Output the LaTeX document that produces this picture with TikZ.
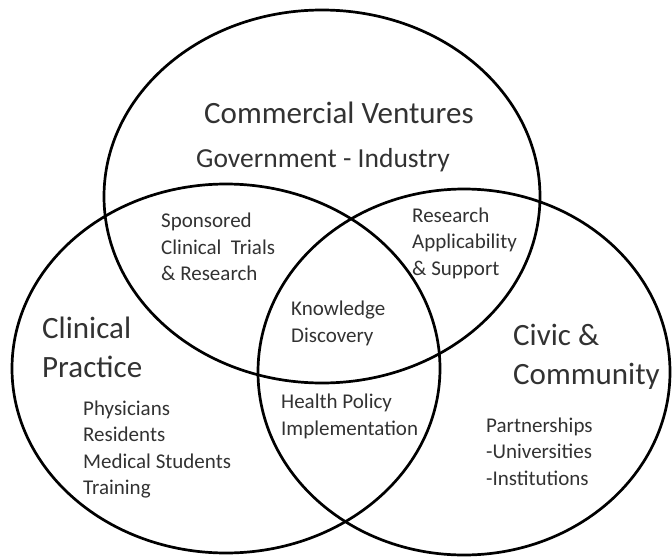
\documentclass[tikz,border=0pt]{standalone}
\usepackage{fontspec}
\setmainfont{Carlito}
\usetikzlibrary{shapes.geometric}
\definecolor{txt}{RGB}{50,50,50}
\begin{document}
\begin{tikzpicture}[x=1pt,y=-1pt,
  ring/.style={ellipse, draw=black, line width=2.7pt, inner sep=0pt},
  big/.style={font=\fontsize{31}{38.5}\selectfont, text=txt, inner sep=0pt, align=left, anchor=west},
  mid/.style={font=\fontsize{27.5}{30}\selectfont, text=txt, inner sep=0pt, anchor=west},
  small/.style={font=\fontsize{21}{26.5}\selectfont, text=txt, inner sep=0pt, align=left, anchor=west}]
\path[use as bounding box] (0,0) rectangle (672,557);
\node[ring, minimum width=436pt, minimum height=373pt] (top) at (322,196.5) {};
\node[ring, minimum width=428pt, minimum height=369pt] (left) at (226,368.5) {};
\node[ring, minimum width=412pt, minimum height=366pt] (right) at (464,372) {};
\node[big] (cv) at (204,113) {Commercial Ventures};
\node[mid] (gi) at (196,160) {Government - Industry};
\node[small] (sp) at (161,247) {Sponsored\\Clinical\ \ Trials\\\& Research};
\node[small] (ra) at (412,243) {Research\\Applicability\\\& Support};
\node[small] (kd) at (291,323.5) {Knowledge\\Discovery};
\node[big] (cp) at (42,347.5) {Clinical\\Practice};
\node[big] (cc) at (513,357) {Civic \&\\Community};
\node[small] (ph) at (83,449.5) {Physicians\\Residents\\Medical Students\\Training};
\node[small] (hp) at (281,416.5) {Health Policy\\Implementation};
\node[small] (pa) at (486,451.5) {Partnerships\\-Universities\\-Institutions};
\end{tikzpicture}
\end{document}
